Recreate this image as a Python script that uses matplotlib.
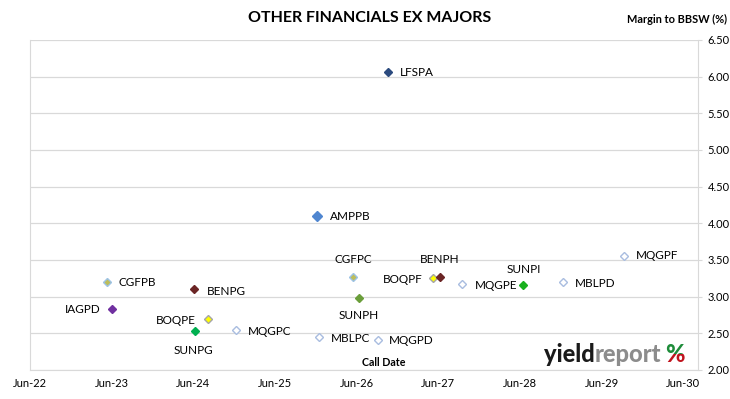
import pandas as pd
import matplotlib
matplotlib.use('Agg')
from matplotlib import pyplot as plt
from matplotlib import dates as mdates
from matplotlib.patches import Rectangle

plt.rcParams['font.family'] = ['Lato', 'DejaVu Sans']

# securities, first call date and margin to BBSW (%)
names = ['LFSPA', 'AMPPB', 'CGFPB', 'IAGPD', 'BENPG', 'BOQPE', 'SUNPG', 'MQGPC', 'MBLPC',
         'CGFPC', 'SUNPH', 'MQGPD', 'BOQPF', 'BENPH', 'MQGPE', 'SUNPI', 'MBLPD', 'MQGPF']
call_dates = ['2026-10-18', '2025-12-04', '2023-05-10', '2023-06-04', '2024-06-05', '2024-08-06',
              '2024-06-08', '2024-12-07', '2025-12-15', '2026-05-17', '2026-06-12', '2026-09-04',
              '2027-05-10', '2027-06-08', '2027-09-16', '2028-06-12', '2028-12-08', '2029-09-07']
margins = [6.06, 4.10, 3.20, 2.835, 3.10, 2.70, 2.53, 2.545, 2.45,
           3.27, 2.985, 2.41, 3.26, 3.27, 3.17, 3.155, 3.195, 3.56]

HOLLOW = ('white', '#A9BDE0')
face_edge = {
    'LFSPA': ('#2B4A7E', '#2B4A7E'), 'AMPPB': ('#4F86D0', '#4F86D0'),
    'CGFPB': ('#BDBD5A', '#9DC3E6'), 'CGFPC': ('#BDBD5A', '#9DC3E6'),
    'IAGPD': ('#7030A0', '#7030A0'), 'BENPG': ('#6B2525', '#6B2525'),
    'BENPH': ('#6B2525', '#6B2525'), 'BOQPE': ('#FFFF00', '#A6A6A6'),
    'BOQPF': ('#FFFF00', '#A6A6A6'), 'SUNPG': ('#00B050', '#00B050'),
    'SUNPH': ('#6A9E3A', '#6A9E3A'), 'SUNPI': ('#19B01E', '#19B01E'),
}
# label offsets in pixels (dx, dy, ha)
label_pos = {
    'LFSPA': (12, 0, 'left'), 'AMPPB': (13, -1, 'left'), 'CGFPB': (12, 0, 'left'),
    'IAGPD': (-12, -1, 'right'), 'BENPG': (13, -2, 'left'), 'BOQPE': (-12, -2, 'right'),
    'SUNPG': (-2, -19, 'center'), 'MQGPC': (12, -1, 'left'), 'MBLPC': (12, -1, 'left'),
    'CGFPC': (0, 17, 'center'), 'SUNPH': (0, -18, 'center'), 'MQGPD': (11, -1, 'left'),
    'BOQPF': (-11, -2, 'right'), 'BENPH': (0, 17, 'center'), 'MQGPE': (13, -1, 'left'),
    'SUNPI': (1, 16, 'center'), 'MBLPD': (12, -1, 'left'), 'MQGPF': (12, 0, 'left'),
}

df = pd.DataFrame({'name': names, 'date': pd.to_datetime(call_dates), 'margin': margins})

fig = plt.figure(figsize=(7.30, 3.99), dpi=100)
ax = fig.add_axes([30 / 730, 1 - 370 / 399, 668 / 730, 330 / 399])

for _, row in df.iterrows():
    fc, ec = face_edge.get(row['name'], HOLLOW)
    ms = 5.6 if row['name'] == 'AMPPB' else 4.0
    ax.plot(row['date'], row['margin'], marker='D', ms=ms, mfc=fc, mec=ec, mew=1.0,
            linestyle='none', zorder=3)
    dx, dy, ha = label_pos[row['name']]
    ax.annotate(row['name'], (row['date'], row['margin']), xytext=(dx, dy),
                textcoords='offset pixels', ha=ha, va='center', fontsize=8.5, color='black')

ax.set_ylim(2.0, 6.5)
ax.set_yticks([2.0 + 0.5 * i for i in range(10)])
ax.yaxis.tick_right()
ax.yaxis.set_major_formatter(matplotlib.ticker.FormatStrFormatter('%.2f'))
ax.set_xlim(pd.Timestamp('2022-06-01'), pd.Timestamp('2030-08-06'))
ax.set_xticks([pd.Timestamp('%d-06-01' % y) for y in range(2022, 2031)])
ax.xaxis.set_major_formatter(mdates.DateFormatter('%b-%y'))
ax.tick_params(axis='both', labelsize=8, length=0, pad=6)
ax.tick_params(axis='y', pad=4, length=3, color='#D9D9D9')

ax.grid(axis='y', color='#D9D9D9', lw=0.9)
ax.set_axisbelow(True)
for side in ['left', 'right', 'bottom']:
    ax.spines[side].set_color('#D9D9D9')
ax.spines['top'].set_visible(False)

fig.text(370 / 730, 1 - 18 / 399, 'OTHER FINANCIALS EX MAJORS', ha='center', va='center',
         fontsize=11.5, fontweight='bold')
fig.text(727 / 730, 1 - 19 / 399, 'Margin to BBSW (%)', ha='right', va='center',
         fontsize=7.9, fontweight='bold')
fig.text(384 / 730, 1 - 363 / 399, 'Call Date', ha='center', va='center',
         fontsize=7.7, fontweight='bold')

# yieldreport watermark
y_wm = 1 - 354 / 399
t1 = fig.text(544 / 730, y_wm, 'yield', ha='left', va='center', fontsize=17,
              fontweight='black', color='#1A1A1A')
fig.canvas.draw()
bb = t1.get_window_extent()
t2 = fig.text(bb.x1 / 730, y_wm, 'report', ha='left', va='center', fontsize=17,
              fontweight='black', color='#8C8C8C')
fig.canvas.draw()
bb2 = t2.get_window_extent()
px = bb2.x1 + 4
pg = fig.text(px / 730, y_wm, '%', ha='left', va='center', fontsize=17,
              fontweight='black', color='#1E8C3A')
pr = fig.text(px / 730, y_wm, '%', ha='left', va='center', fontsize=17,
              fontweight='black', color='#C0141E')
fig.canvas.draw()
bb3 = pg.get_window_extent()
mid = (bb3.y0 + bb3.y1) / 2
pg.set_clip_path(Rectangle((bb3.x0 - 5, mid), 60, 60, transform=None))
pr.set_clip_path(Rectangle((bb3.x0 - 5, mid - 60), 60, 60, transform=None))

fig.savefig('out.png', dpi=100)
